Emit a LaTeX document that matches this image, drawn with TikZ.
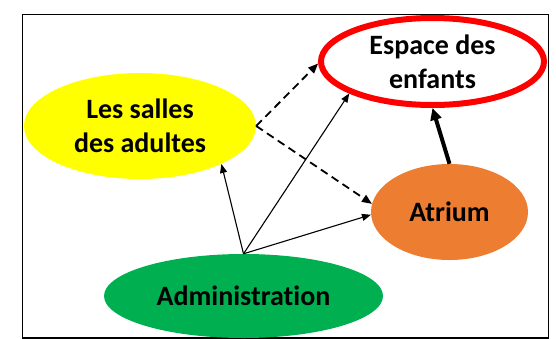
\documentclass[tikz,border=0pt]{standalone}
\usepackage{fontspec}
\setmainfont[Ligatures=NoCommon]{Carlito}
\usetikzlibrary{shapes.geometric,arrows.meta}
\definecolor{orangeC}{HTML}{ED7D31}
\definecolor{greenC}{HTML}{00B050}
\definecolor{yellowC}{HTML}{FFFF00}
\definecolor{redC}{HTML}{FF0000}
\begin{document}
\begin{tikzpicture}[x=1pt,y=-1pt,
  blob/.style={ellipse, inner sep=0pt, font=\bfseries\fontsize{28}{34}\selectfont, align=center},
  thinarrow/.style={-{Triangle[length=9pt,width=7pt]}, line width=1.1pt},
  dasharrow/.style={-{Triangle[length=10pt,width=8pt]}, line width=1.8pt, dash pattern=on 8pt off 5pt},
  thickarrow/.style={-{Triangle[length=12pt,width=11pt]}, line width=4pt}]
\useasboundingbox (0,0) rectangle (556,338);
\draw[line width=1.5pt] (22.7,14.7) rectangle (548.3,337.8);
\node[blob, fill=yellowC, minimum width=232pt, minimum height=106pt] (sal) at (140,126) {Les salles\\des adultes};
\node[blob, draw=redC, line width=6pt, fill=white, minimum width=223pt, minimum height=87pt] (esp) at (432.5,61.5) {Espace des\\enfants};
\node[blob, fill=orangeC, minimum width=157pt, minimum height=96pt] (atr) at (449.5,212) {Atrium};
\node[blob, fill=greenC, minimum width=279pt, minimum height=84pt] (adm) at (243.5,296) {Administration};
\draw[thinarrow] (adm.north) -- (sal.-25.5);
\draw[thinarrow] (adm.north) -- (esp.201.7);
\draw[thinarrow] (adm.north) -- (atr.182);
\draw[dasharrow] (sal.east) -- (esp.181);
\draw[dasharrow] (sal.east) -- (atr.174);
\draw[thickarrow] (atr.north) -- (esp.south);
\end{tikzpicture}
\end{document}
